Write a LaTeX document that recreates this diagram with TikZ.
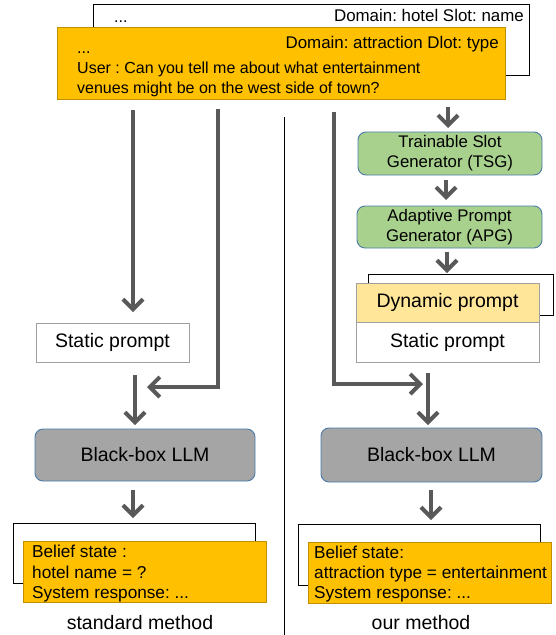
\documentclass[tikz,border=0pt]{standalone}
\usepackage{fontspec}
\setmainfont{Liberation Sans}
\usetikzlibrary{arrows.meta}
\frenchspacing
\definecolor{arrgray}{HTML}{595959}
\definecolor{gold}{HTML}{FFC000}
\definecolor{golddark}{HTML}{C09000}
\definecolor{boxgray}{HTML}{A0A0A0}
\definecolor{llmfill}{HTML}{A5A5A5}
\definecolor{bluedraw}{HTML}{4A7AA8}
\definecolor{greenfill}{HTML}{A9D18E}
\definecolor{dynfill}{HTML}{FFE699}
\tikzset{
  arr/.style={draw=arrgray, line width=4pt, line join=miter, -{Straight Barb[length=10pt,width=20pt]}},
  base/.style={anchor=north west, inner sep=0pt, outer sep=0pt},
  backbox/.style={base, draw=black, line width=0.9pt, fill=white},
  goldbox/.style={base, draw=golddark, line width=0.9pt, fill=gold},
  plainbox/.style={base, draw=boxgray, line width=0.9pt, fill=white, font=\fontsize{19.5}{22}\selectfont},
  dynbox/.style={base, draw=boxgray, line width=0.9pt, fill=dynfill, font=\fontsize{19.5}{22}\selectfont},
  llmbox/.style={base, draw=bluedraw, line width=0.9pt, fill=llmfill, rounded corners=8pt, font=\fontsize{19.5}{22}\selectfont},
  genbox/.style={base, draw=bluedraw, line width=0.9pt, fill=greenfill, rounded corners=8pt, align=center, font=\fontsize{16.8}{20}\selectfont},
  toptext/.style={inner sep=0pt, font=\fontsize{16}{20}\selectfont},
  domtext/.style={inner sep=0pt, anchor=base east, font=\fontsize{16.9}{20}\selectfont},
  beltext/.style={inner sep=0pt, anchor=base west, font=\fontsize{17.2}{20}\selectfont},
  caption/.style={inner sep=0pt, font=\fontsize{19.5}{22}\selectfont},
}
\begin{document}
\begin{tikzpicture}[x=1pt,y=-1pt]
\useasboundingbox (0,0) rectangle (556,635);
% top boxes
\node[backbox, minimum width=436pt, minimum height=71pt] (backtop) at (93,4) {};
\node[toptext, anchor=base west] (bdots) at (114,22) {...};
\node[domtext] (bdom) at (524,21) {Domain: hotel Slot: name};
\node[goldbox, minimum width=448pt, minimum height=72pt] (orangetop) at (57,27) {};
\node[domtext] (odom) at (499,48) {Domain: attraction Dlot: type};
\node[toptext, anchor=base west] (odots) at (77,53) {...};
\node[toptext, anchor=base west] (ouser) at (77,73) {User : Can you tell me about what entertainment};
\node[toptext, anchor=base west] (oven) at (77,93) {venues might be on the west side of town?};

% divider
\coordinate (dtop) at (284,117);
\coordinate (dbot) at (284,635);
\draw[black, line width=0.9pt] (dtop) -- (dbot);

% left column
\node[plainbox, minimum width=153pt, minimum height=39pt] (sp1) at (36,323) {Static prompt};
\node[llmbox, minimum width=220pt, minimum height=52pt] (llm1) at (35,429) {Black-box LLM};
\node[backbox, minimum width=242pt, minimum height=60pt] (backbl) at (13,523) {};
\node[goldbox, minimum width=243pt, minimum height=61pt] (orbl) at (23,541) {};
\node[beltext] (bl1) at (32,557) {Belief state :};
\node[beltext] (bl2) at (32,578) {hotel name = ?};
\node[beltext] (bl3) at (32,598) {System response: ...};
\node[caption] (cap1) at (140,623) {standard method};

\coordinate (x1) at (133,0);
\coordinate (x2) at (218,0);
\coordinate (x3) at (135,0);
\coordinate (x4) at (133,0);
\coordinate (j2) at (218,387);
\coordinate (t2) at (147,387);
\draw[arr, shorten <=11pt, shorten >=11pt] (orangetop.south -| x1) -- (sp1.north -| x1);
\draw[arr, shorten <=10pt] (orangetop.south -| x2) -- (j2) -- (t2);
\draw[arr, shorten <=13pt, shorten >=4pt] (sp1.south -| x3) -- (llm1.north -| x3);
\draw[arr, shorten <=9pt, shorten >=5pt] (llm1.south -| x4) -- (backbl.north -| x4);

% right column
\node[genbox, minimum width=184pt, minimum height=43pt] (tsg) at (358,132) {Trainable Slot\\Generator (TSG)};
\node[genbox, minimum width=185pt, minimum height=42pt] (apg) at (357,206) {Adaptive Prompt\\Generator (APG)};
\node[backbox, minimum width=185pt, minimum height=41pt] (backdyn) at (368,274) {};
\node[dynbox, minimum width=183pt, minimum height=39pt] (dyn) at (356,283) {Dynamic prompt};
\node[plainbox, minimum width=183pt, minimum height=40pt] (sp2) at (356,322) {Static prompt};
\node[llmbox, minimum width=221pt, minimum height=54pt] (llm2) at (321,428) {Black-box LLM};
\node[backbox, minimum width=242pt, minimum height=61pt] (backbr) at (298,524) {};
\node[goldbox, minimum width=243pt, minimum height=61pt] (orbr) at (308,542) {};
\node[beltext] (br1) at (314,558) {Belief state:};
\node[beltext] (br2) at (314,578) {attraction type = entertainment};
\node[beltext] (br3) at (314,598) {System response: ...};
\node[caption] (cap2) at (421,623) {our method};

\coordinate (x5) at (448,0);
\coordinate (x6) at (446,0);
\coordinate (x7) at (447,0);
\coordinate (x8) at (428,0);
\coordinate (x9) at (431,0);
\coordinate (x10) at (334,0);
\coordinate (j10) at (334,384);
\coordinate (t10) at (423,384);
\draw[arr, shorten <=8pt, shorten >=4pt] (orangetop.south -| x5) -- (tsg.north -| x5);
\draw[arr, shorten <=5pt, shorten >=6pt] (tsg.south -| x6) -- (apg.north -| x6);
\draw[arr, shorten <=4pt, shorten >=1pt] (apg.south -| x7) -- (backdyn.north -| x7);
\draw[arr, shorten <=13pt] (orangetop.south -| x10) -- (j10) -- (t10);
\draw[arr, shorten <=11pt, shorten >=3pt] (sp2.south -| x8) -- (llm2.north -| x8);
\draw[arr, shorten <=8pt, shorten >=4pt] (llm2.south -| x9) -- (backbr.north -| x9);
\end{tikzpicture}
\end{document}
